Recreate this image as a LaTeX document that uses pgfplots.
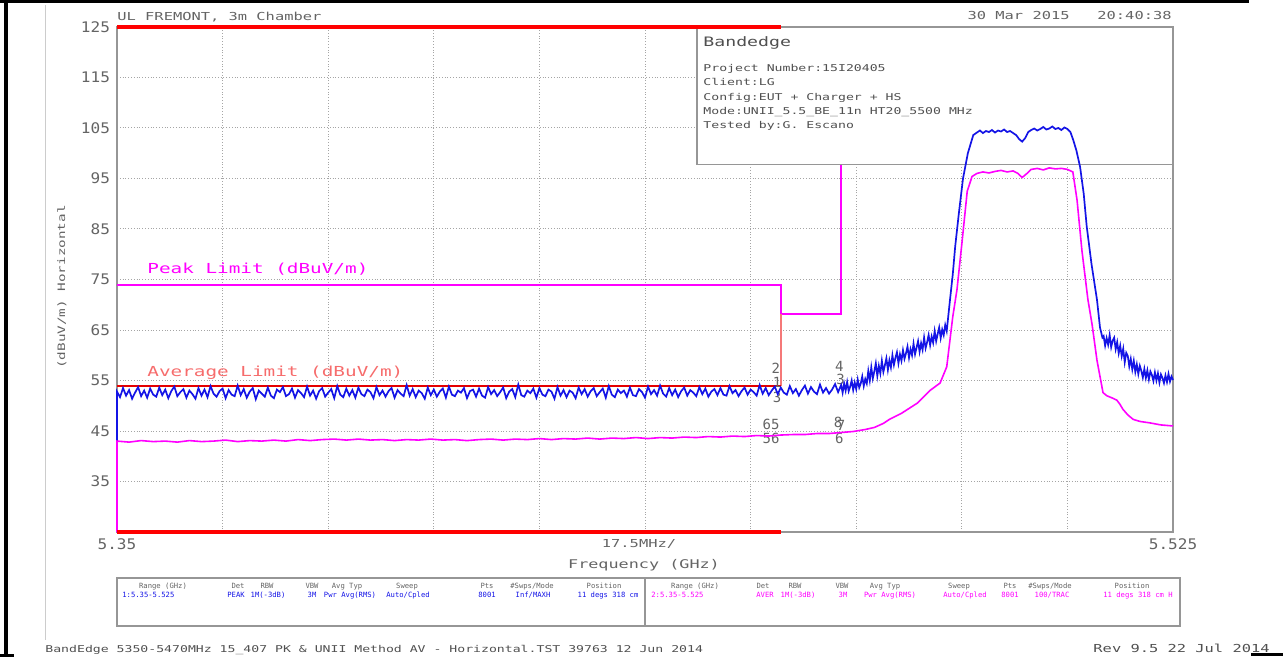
\documentclass[border=0pt]{standalone}
\usepackage{pgfplots}
\pgfplotsset{compat=1.18}
\usepackage{fontspec}
\setmainfont{DejaVu Sans Mono}
\newfontfamily\pf[FakeStretch=1.4]{DejaVu Sans Mono}
\newfontfamily\tf[FakeStretch=1.1]{DejaVu Sans Mono}
\newcommand{\fs}[1]{\fontsize{#1}{#1}\selectfont}
\definecolor{txtgray}{RGB}{100,100,100}
\definecolor{axgray}{RGB}{150,150,150}
\definecolor{gridgray}{RGB}{165,165,165}
\definecolor{tblue}{RGB}{20,20,230}
\definecolor{tmag}{RGB}{255,0,255}
\definecolor{lred}{RGB}{255,0,0}
\definecolor{salmon}{RGB}{245,120,120}
\begin{document}
\begin{tikzpicture}
\begin{scope}[x=0.5pt,y=-0.5pt]
\path[use as bounding box] (0,0) rectangle (1283,657);
\end{scope}
\begin{axis}[
  at={(58.5pt,-266pt)}, anchor=south west,
  scale only axis, width=528pt, height=252.5pt,
  xmin=5.35, xmax=5.525, ymin=25, ymax=125,
  clip=false,
  axis line style={draw=axgray, line width=0.6pt},
  xtick={5.35,5.3675,5.385,5.4025,5.42,5.4375,5.455,5.4725,5.49,5.5075,5.525},
  xticklabels={5.35,,,,,,,,,,5.525},
  ytick={25,35,...,125},
  yticklabels={,35,45,55,65,75,85,95,105,115,125},
  major tick length=0pt,
  grid=major,
  major grid style={densely dotted, draw=gridgray, line width=0.5pt},
  tick label style={font=\tf\fs{7.3}, text=txtgray},
]
% limit lines
\addplot[tmag, line width=1pt] coordinates {(5.35,74) (5.46,74) (5.46,68.2) (5.47,68.2) (5.47,110)};
\addplot[salmon, line width=0.8pt] coordinates {(5.46,54) (5.46,68.2)};
\addplot[lred!90!black, line width=1pt] coordinates {(5.35,54) (5.46,54)};
% info box
\filldraw[fill=white, draw=axgray, line width=0.6pt] (5.4461,97.7) rectangle (5.525,125);
% marker labels
\node[text=txtgray, font=\fs{7}, inner sep=0] at (5.4592,57.4) {2};
\node[text=txtgray, font=\fs{7}, inner sep=0] at (5.4594,54.6) {1};
\node[text=txtgray, font=\fs{7}, inner sep=0] at (5.4594,51.7) {3};
\node[text=txtgray, font=\fs{7}, inner sep=0] at (5.4697,57.8) {4};
\node[text=txtgray, font=\fs{7}, inner sep=0] at (5.4699,55.2) {3};
\node[text=txtgray, font=\fs{7}, inner sep=0] at (5.4584,46.4) {65};
\node[text=txtgray, font=\fs{7}, inner sep=0] at (5.4584,43.6) {56};
\node[text=txtgray, font=\fs{7}, inner sep=0] at (5.4695,46.7) {8};
\node[text=txtgray, font=\fs{7}, inner sep=0] at (5.4700,46.1) {7};
\node[text=txtgray, font=\fs{7}, inner sep=0] at (5.4697,43.6) {6};
% peak trace (blue)
\addplot[tblue, line width=0.85pt] coordinates {
(5.35,25)
(5.3500,52.8)(5.3505,51.7)(5.3510,53.5)(5.3515,52.0)(5.3520,53.1)(5.3525,51.4)(5.3530,52.6)(5.3535,53.7)(5.3540,51.9)(5.3545,53.0)
(5.3550,51.6)(5.3555,53.4)(5.3560,52.2)(5.3565,51.8)(5.3570,53.6)(5.3575,52.1)(5.3580,53.2)(5.3585,51.5)(5.3590,52.9)(5.3595,53.8)
(5.3600,51.9)(5.3605,52.7)(5.3610,53.3)(5.3615,51.6)(5.3620,53.0)(5.3625,52.3)(5.3630,51.4)(5.3635,53.5)(5.3640,52.0)(5.3645,53.2)
(5.3650,51.7)(5.3655,53.9)(5.3660,52.4)(5.3665,51.8)(5.3670,52.9)(5.3675,53.4)(5.3680,51.5)(5.3685,53.1)(5.3690,52.2)(5.3695,51.9)
(5.3700,54.0)(5.3705,52.1)(5.3710,53.3)(5.3715,51.6)(5.3720,52.8)(5.3725,53.5)(5.3730,51.3)(5.3735,53.0)(5.3740,52.4)(5.3745,51.8)
(5.3750,53.6)(5.3755,52.0)(5.3760,51.5)(5.3765,53.2)(5.3770,52.7)(5.3775,53.7)(5.3780,51.9)(5.3785,52.3)(5.3790,53.4)(5.3795,51.6)
(5.3800,53.1)(5.3805,52.5)(5.3810,51.7)(5.3815,53.8)(5.3820,52.0)(5.3825,53.0)(5.3830,51.4)(5.3835,52.9)(5.3840,53.5)(5.3845,51.8)
(5.3850,52.6)(5.3855,53.3)(5.3860,51.5)(5.3865,53.9)(5.3870,52.2)(5.3875,51.7)(5.3880,53.4)(5.3885,52.0)(5.3890,53.1)(5.3895,51.6)
(5.3900,53.6)(5.3905,52.3)(5.3910,51.9)(5.3915,53.2)(5.3920,52.7)(5.3925,51.5)(5.3930,53.7)(5.3935,52.1)(5.3940,53.0)(5.3945,51.8)
(5.3950,52.9)(5.3955,53.5)(5.3960,51.6)(5.3965,53.1)(5.3970,52.4)(5.3975,51.9)(5.3980,54.1)(5.3985,52.0)(5.3990,53.3)(5.3995,51.7)
(5.4000,53.0)(5.4005,52.5)(5.4010,51.4)(5.4015,53.6)(5.4020,52.1)(5.4025,53.2)(5.4030,51.8)(5.4035,52.8)(5.4040,53.4)(5.4045,51.6)
(5.4050,53.8)(5.4055,52.2)(5.4060,51.9)(5.4065,53.0)(5.4070,52.6)(5.4075,53.5)(5.4080,51.5)(5.4085,52.9)(5.4090,53.2)(5.4095,51.8)
(5.4100,53.4)(5.4105,52.0)(5.4110,51.6)(5.4115,53.7)(5.4120,52.3)(5.4125,53.1)(5.4130,51.9)(5.4135,52.7)(5.4140,53.6)(5.4145,51.5)
(5.4150,52.8)(5.4155,53.3)(5.4160,51.7)(5.4165,54.2)(5.4170,52.1)(5.4175,51.8)(5.4180,53.0)(5.4185,52.5)(5.4190,53.4)(5.4195,51.6)
(5.4200,53.5)(5.4205,52.2)(5.4210,51.9)(5.4215,53.2)(5.4220,52.8)(5.4225,51.4)(5.4230,53.7)(5.4235,52.0)(5.4240,53.1)(5.4245,51.7)
(5.4250,53.0)(5.4255,52.6)(5.4260,51.5)(5.4265,53.6)(5.4270,52.3)(5.4275,53.3)(5.4280,51.8)(5.4285,52.9)(5.4290,53.5)(5.4295,51.9)
(5.4300,52.7)(5.4305,53.4)(5.4310,51.6)(5.4315,53.9)(5.4320,52.2)(5.4325,51.7)(5.4330,53.2)(5.4335,52.5)(5.4340,53.0)(5.4345,51.8)
(5.4350,53.6)(5.4355,52.1)(5.4360,51.9)(5.4365,53.3)(5.4370,52.7)(5.4375,51.6)(5.4380,53.8)(5.4385,52.3)(5.4390,53.1)(5.4395,52.0)
(5.4400,54.0)(5.4405,52.4)(5.4410,51.8)(5.4415,53.5)(5.4420,52.1)(5.4425,53.2)(5.4430,51.7)(5.4435,52.9)(5.4440,53.6)(5.4445,52.0)
(5.4450,53.1)(5.4455,52.6)(5.4460,51.9)(5.4465,53.7)(5.4470,52.3)(5.4475,53.4)(5.4480,51.8)(5.4485,52.8)(5.4490,53.3)(5.4495,52.1)
(5.4500,53.5)(5.4505,52.2)(5.4510,52.0)(5.4515,53.9)(5.4520,52.5)(5.4525,53.1)(5.4530,51.9)(5.4535,52.9)(5.4540,53.6)(5.4545,52.2)
(5.4550,53.2)(5.4555,52.7)(5.4560,52.0)(5.4565,54.1)(5.4570,52.4)(5.4575,53.5)(5.4580,52.1)(5.4585,53.0)(5.4590,53.8)(5.4595,52.3)
(5.4600,53.6)(5.4605,52.6)(5.4610,52.2)(5.4615,53.9)(5.4620,52.5)(5.4625,53.3)(5.4630,52.0)(5.4635,53.1)(5.4640,54.0)(5.4645,52.4)
(5.4650,53.7)(5.4655,52.8)(5.4660,52.3)(5.4665,54.2)(5.4670,52.6)(5.4675,53.5)(5.4680,52.4)(5.4685,53.2)(5.4690,54.3)(5.4695,52.7)
(5.4700,54.1)
(5.47025,52.6)(5.47050,54.4)(5.47075,53.0)(5.47100,54.7)(5.47125,52.9)(5.47150,53.8)(5.47175,55.0)(5.47200,53.1)(5.47225,54.6)(5.47250,53.3)
(5.47275,55.2)(5.47300,53.6)(5.47325,54.4)(5.47350,55.8)(5.47375,53.9)(5.47400,55.3)(5.47425,54.4)(5.47450,56.9)(5.47475,55.0)(5.47500,57.6)
(5.47525,55.4)(5.47550,56.8)(5.47575,58.4)(5.47600,55.9)(5.47625,57.9)(5.47650,56.4)(5.47675,58.9)(5.47700,56.7)(5.47725,58.0)(5.47750,59.4)
(5.47775,57.1)(5.47800,59.0)(5.47825,57.6)(5.47850,60.0)(5.47875,58.1)(5.47900,59.5)(5.47925,60.6)(5.47950,58.4)(5.47975,60.2)(5.48000,58.9)
(5.48025,61.0)(5.48050,59.3)(5.48075,60.4)(5.48100,61.7)(5.48125,59.5)(5.48150,61.2)(5.48175,60.0)(5.48200,62.3)(5.48225,60.2)(5.48250,61.5)
(5.48275,62.8)(5.48300,60.7)(5.48325,62.4)(5.48350,61.1)(5.48375,63.5)(5.48400,61.4)(5.48425,62.6)(5.48450,64.0)(5.48475,62.0)(5.48500,63.7)
(5.48525,62.5)(5.48550,64.8)(5.48575,62.8)(5.48600,64.2)(5.48625,65.5)(5.48650,63.4)(5.48675,65.1)(5.48700,64.0)(5.48725,66.0)(5.48750,64.8)
(5.4880,70.5)(5.4885,76)(5.4889,81.5)(5.4895,88)(5.4902,95)(5.4910,100)(5.4919,103.6)
(5.4925,104.1)(5.4930,104.5)(5.4935,104.0)(5.4940,104.4)(5.4945,104.2)(5.4950,104.6)(5.4955,104.1)(5.4960,104.5)(5.4965,104.3)(5.4970,104.7)
(5.4975,104.2)(5.4980,104.4)(5.4985,104.0)(5.4990,103.6)(5.4995,102.8)(5.5000,102.3)(5.5005,103.0)(5.5010,104.2)(5.5015,104.6)(5.5020,104.9)
(5.5025,104.5)(5.5030,104.8)(5.5035,105.2)(5.5040,104.7)(5.5045,104.9)(5.5050,105.3)(5.5055,104.8)(5.5060,105.0)(5.5065,104.6)(5.5070,105.1)
(5.5075,104.8)(5.5080,104.2)(5.5085,102.5)
(5.5090,100.5)(5.5096,97.3)(5.5102,92)(5.5107,85.5)(5.5115,78)(5.5124,71)(5.5129,65.5)(5.5133,63.5)
(5.51350,63.8)(5.51375,61.9)(5.51400,63.4)(5.51425,62.1)(5.51450,64.0)(5.51475,61.6)(5.51500,62.9)(5.51525,63.5)(5.51550,61.2)(5.51575,62.6)
(5.51600,60.4)(5.51625,61.9)(5.51650,59.8)(5.51675,61.3)(5.51700,58.6)(5.51725,60.5)(5.51750,59.9)(5.51775,57.8)(5.51800,59.3)(5.51825,57.2)
(5.51850,58.9)(5.51875,56.7)(5.51900,58.2)(5.51925,56.3)(5.51950,57.9)(5.51975,56.9)(5.52000,55.6)(5.52025,57.3)(5.52050,55.5)(5.52075,57.0)
(5.52100,55.2)(5.52125,56.8)(5.52150,56.1)(5.52175,54.9)(5.52200,56.6)(5.52225,55.0)(5.52250,56.4)(5.52275,54.6)(5.52300,56.2)(5.52325,55.5)
(5.52350,54.5)(5.52375,56.0)(5.52400,54.7)(5.52425,56.3)(5.52450,54.8)(5.52475,55.8)(5.52500,55.1)
};
% average trace (magenta)
\addplot[tmag, line width=0.8pt] coordinates {
(5.35,25)
(5.350,43.0)(5.352,42.8)(5.354,43.1)(5.356,42.9)(5.358,43.0)(5.360,42.8)(5.362,43.1)(5.364,42.9)(5.366,43.0)(5.368,43.2)
(5.370,42.9)(5.372,43.1)(5.374,43.0)(5.376,43.2)(5.378,43.0)(5.380,43.3)(5.382,43.1)(5.384,43.3)(5.386,43.4)(5.388,43.2)
(5.390,43.4)(5.392,43.2)(5.394,43.3)(5.396,43.1)(5.398,43.3)(5.400,43.2)(5.402,43.4)(5.404,43.2)(5.406,43.3)(5.408,43.1)
(5.410,43.3)(5.412,43.4)(5.414,43.2)(5.416,43.4)(5.418,43.3)(5.420,43.5)(5.422,43.3)(5.424,43.5)(5.426,43.4)(5.428,43.6)
(5.430,43.4)(5.432,43.6)(5.434,43.5)(5.436,43.7)(5.438,43.5)(5.440,43.7)(5.442,43.6)(5.444,43.8)(5.446,43.7)(5.448,43.9)
(5.450,43.8)(5.452,44.0)(5.454,43.9)(5.456,44.1)(5.458,44.0)(5.460,44.2)(5.462,44.3)(5.464,44.3)(5.466,44.5)(5.468,44.5)
(5.470,44.7)(5.472,44.9)(5.474,45.3)(5.4755,45.7)(5.477,46.5)(5.478,47.3)(5.480,48.5)(5.4826,50.5)(5.4847,53.0)(5.4864,54.5)
(5.4875,57.7)(5.4885,67.6)(5.4892,73)(5.4900,82)(5.4909,92.5)(5.4917,95.4)(5.4925,96.0)(5.4935,96.3)(5.4945,96.1)(5.4955,96.4)
(5.4965,96.6)(5.4975,96.3)(5.4985,96.5)(5.4993,96.0)(5.5000,95.2)(5.5008,96.0)(5.5015,96.8)(5.5025,97.0)(5.5035,96.7)(5.5045,97.1)
(5.5055,96.9)(5.5065,97.0)(5.5075,96.8)(5.5084,96.3)(5.5091,90.7)(5.5099,80.8)(5.5109,71)(5.5116,66)(5.5124,59)(5.5129,55.8)
(5.5134,52.6)(5.5140,52.0)(5.5150,51.5)(5.5157,51.1)(5.5162,50.3)(5.5167,49.3)(5.5175,48.2)(5.5184,47.3)(5.5195,46.9)(5.5212,46.6)
(5.5230,46.2)(5.5250,46.0)
};
% restricted band bars
\addplot[lred, line width=2pt] coordinates {(5.35,125) (5.46,125)};
\addplot[lred, line width=2pt] coordinates {(5.35,25) (5.46,25)};
\end{axis}
\begin{scope}[x=0.5pt,y=-0.5pt]
% scan frame
\fill[black] (0,0) rectangle (1249,3);
\fill[black] (4,0) rectangle (8,657);
\fill[black] (0,654) rectangle (14,657);
\fill[black] (1251,653) rectangle (1283,656);
\draw[gray!40, line width=0.5pt] (45,5) -- (45,640);
% header
\node[anchor=base west, inner sep=0, text=txtgray, font=\pf\fs{5.5}] at (117,20.5) {UL FREMONT, 3m Chamber};
\node[anchor=base east, inner sep=0, text=txtgray, font=\pf\fs{5.5}] at (1172,20) {30 Mar 2015\ \ \ 20:40:38};
% info box text
\node[anchor=base west, inner sep=0, text=txtgray!80!black, font=\pf\fs{6.5}] at (703,46.7) {Bandedge};
\node[anchor=base west, inner sep=0, text=txtgray!80!black, font=\pf\fs{4.7}] at (703,71.5) {Project Number:15I20405};
\node[anchor=base west, inner sep=0, text=txtgray!80!black, font=\pf\fs{4.7}] at (703,86) {Client:LG};
\node[anchor=base west, inner sep=0, text=txtgray!80!black, font=\pf\fs{4.7}] at (703,100.3) {Config:EUT + Charger + HS};
\node[anchor=base west, inner sep=0, text=txtgray!80!black, font=\pf\fs{4.7}] at (703,114.5) {Mode:UNII\_5.5\_BE\_11n HT20\_5500 MHz};
\node[anchor=base west, inner sep=0, text=txtgray!80!black, font=\pf\fs{4.7}] at (703,129) {Tested by:G. Escano};
% limit labels
\node[anchor=base west, inner sep=0, text=tmag, font=\pf\fs{6.9}] at (147,274) {Peak Limit (dBuV/m)};
\node[anchor=base west, inner sep=0, text=salmon!90!red, font=\pf\fs{6.9}] at (147,376) {Average Limit (dBuV/m)};
% axis titles
\node[rotate=90, inner sep=0, text=txtgray, font=\pf\fs{5.1}] at (62,287) {(dBuV/m) Horizontal};
\node[anchor=base, inner sep=0, text=txtgray, font=\pf\fs{5.5}] at (639,547) {17.5MHz/};
\node[anchor=base, inner sep=0, text=txtgray, font=\pf\fs{6}] at (644,568) {Frequency (GHz)};
% settings table
\draw[axgray, line width=0.6pt] (117,578) rectangle (1180,626);
\draw[axgray, line width=0.6pt] (645,578) -- (645,626);
\begin{scope}[every node/.style={anchor=base, inner sep=0, font=\fs{3.6}}]
\node[text=txtgray] at (163,588) {Range (GHz)};
\node[text=txtgray] at (238,588) {Det};
\node[text=txtgray] at (267,588) {RBW};
\node[text=txtgray] at (312,588) {VBW};
\node[text=txtgray] at (347,588) {Avg Typ};
\node[text=txtgray] at (407,588) {Sweep};
\node[text=txtgray] at (487,588) {Pts};
\node[text=txtgray] at (532,588) {\#Swps/Mode};
\node[text=txtgray] at (604,588) {Position};
\node[text=tblue, anchor=base west] at (122,597) {1:5.35-5.525};
\node[text=tblue] at (236,597) {PEAK};
\node[text=tblue] at (268,597) {1M(-3dB)};
\node[text=tblue] at (312,597) {3M};
\node[text=tblue] at (350,597) {Pwr Avg(RMS)};
\node[text=tblue] at (408,597) {Auto/Cpled};
\node[text=tblue] at (487,597) {8001};
\node[text=tblue] at (533,597) {Inf/MAXH};
\node[text=tblue] at (608,597) {11 degs 318 cm};
\node[text=txtgray] at (695,588) {Range (GHz)};
\node[text=txtgray] at (763,588) {Det};
\node[text=txtgray] at (795,588) {RBW};
\node[text=txtgray] at (842,588) {VBW};
\node[text=txtgray] at (885,588) {Avg Typ};
\node[text=txtgray] at (959,588) {Sweep};
\node[text=txtgray] at (1010,588) {Pts};
\node[text=txtgray] at (1050,588) {\#Swps/Mode};
\node[text=txtgray] at (1132,588) {Position};
\node[text=tmag, anchor=base west] at (651,597) {2:5.35-5.525};
\node[text=tmag] at (765,597) {AVER};
\node[text=tmag] at (798,597) {1M(-3dB)};
\node[text=tmag] at (843,597) {3M};
\node[text=tmag] at (890,597) {Pwr Avg(RMS)};
\node[text=tmag] at (965,597) {Auto/Cpled};
\node[text=tmag] at (1010,597) {8001};
\node[text=tmag] at (1052,597) {100/TRAC};
\node[text=tmag] at (1138,597) {11 degs 318 cm H};
\end{scope}
% footer
\node[anchor=base west, inner sep=0, text=txtgray!80!black, font=\pf\fs{4.7}] at (45,652) {BandEdge 5350-5470MHz 15\_407 PK \& UNII Method AV - Horizontal.TST 39763 12 Jun 2014};
\node[anchor=base east, inner sep=0, text=txtgray!80!black, font=\pf\fs{5.5}] at (1270,652) {Rev 9.5 22 Jul 2014};
\end{scope}
\end{tikzpicture}
\end{document}
